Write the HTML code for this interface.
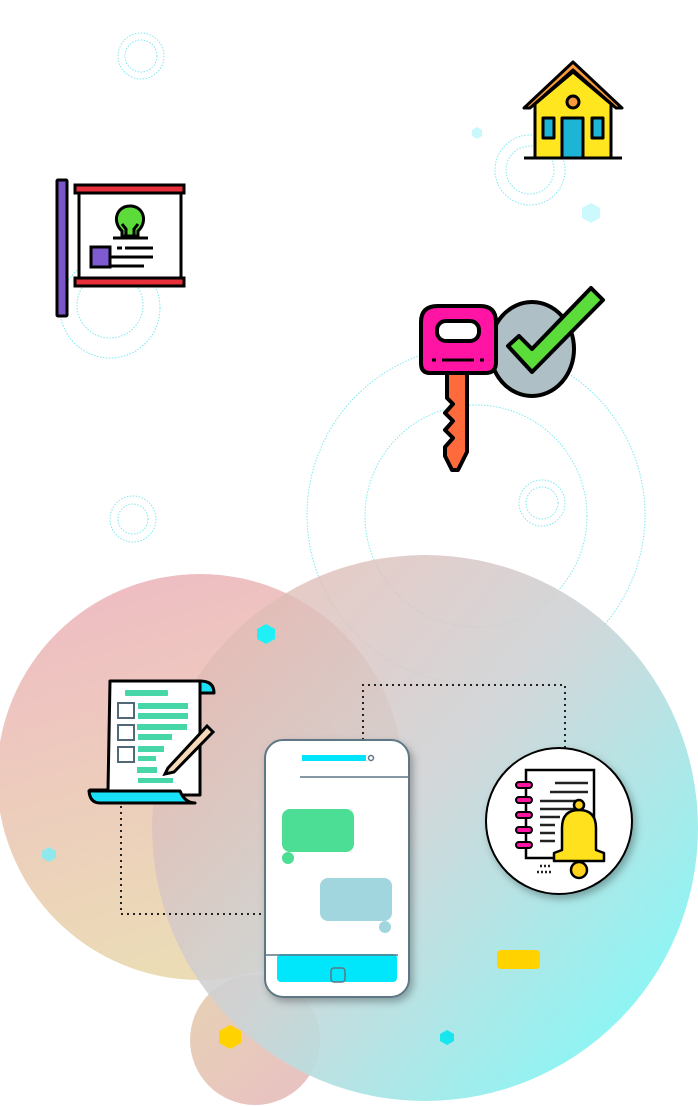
<!DOCTYPE html>
<html><head><meta charset="utf-8"><style>
html,body{margin:0;padding:0;background:#fff;}
svg{display:block}
</style></head><body>
<svg width="698" height="1106" viewBox="0 0 698 1106" xmlns="http://www.w3.org/2000/svg">
<defs>
<linearGradient id="gl" x1="0" y1="0" x2="0.3" y2="1">
<stop offset="0" stop-color="#efbac4"/><stop offset="1" stop-color="#ebdcb6"/></linearGradient>
<linearGradient id="gr" x1="0.1" y1="0.1" x2="0.9" y2="0.8">
<stop offset="0" stop-color="#e3b8b0" stop-opacity="0.75"/><stop offset="0.5" stop-color="#cdd3d6" stop-opacity="0.9"/><stop offset="1" stop-color="#8ff4f3"/></linearGradient>
<linearGradient id="gs" x1="0" y1="0" x2="1" y2="1">
<stop offset="0" stop-color="#e7d2b4"/><stop offset="1" stop-color="#e8c0c4"/></linearGradient>
<filter id="sh" x="-20%" y="-20%" width="150%" height="150%"><feDropShadow dx="3" dy="4" stdDeviation="4" flood-color="#000" flood-opacity="0.3"/></filter>
</defs>

<g fill="none" stroke="#7fe8f0" stroke-width="1" stroke-dasharray="1.5 1.5">
<circle cx="141" cy="56" r="23"/><circle cx="141" cy="56" r="16"/>
<circle cx="530" cy="170" r="35"/><circle cx="530" cy="170" r="24"/>
<circle cx="110" cy="308" r="50"/><circle cx="110" cy="305" r="33"/>
<circle cx="133" cy="519" r="23"/><circle cx="133" cy="519" r="15"/>
<circle cx="476" cy="515" r="169"/><circle cx="476" cy="516" r="111"/>
<circle cx="542" cy="503" r="23"/><circle cx="542" cy="503" r="16"/>
</g>

<circle cx="200" cy="777" r="203" fill="url(#gl)"/>
<circle cx="255" cy="1040" r="65" fill="url(#gs)"/>
<circle cx="425" cy="828" r="273" fill="url(#gr)"/>

<g>
<polygon points="477,127 482,130 482,136 477,139 472,136 472,130" fill="#c8f8fb"/>
<polygon points="591,203 600,208 600,218 591,223 582,218 582,208" fill="#ccfafc"/>
<polygon points="266,624 275,629 275,639 266,644 257,639 257,629" fill="#1ff0f6"/>
<polygon points="49,847 56,851 56,858 49,862 42,858 42,851" fill="#8ee8ec"/>
<polygon points="447,1030 454,1034 454,1041 447,1045 440,1041 440,1034" fill="#18e6ef"/>
<polygon points="230,1025 241,1031 241,1043 230,1049 219,1043 219,1031" fill="#ffd200"/>
</g>
<rect x="497" y="950" width="43" height="19" rx="4" fill="#ffd200"/>

<g stroke="#000" stroke-width="3" stroke-linejoin="round">
<polygon points="573,62 622,108 616,108 573,70 530,108 524,108" fill="#f99a3a"/>
<polygon points="535,104 573,72 611,104 611,158 535,158" fill="#ffe61e"/>
<rect x="543" y="118" width="11" height="20" fill="#1eb4d6"/>
<rect x="592" y="118" width="11" height="20" fill="#1eb4d6"/>
<rect x="562" y="118" width="21" height="40" fill="#1eb4d6"/>
<circle cx="573" cy="102" r="6" fill="#f99a3a"/>
<line x1="524" y1="158" x2="622" y2="158"/>
</g>

<g stroke="#000" stroke-width="3">
<rect x="57" y="180" width="10" height="136" fill="#7a56c8" rx="1"/>
<rect x="75" y="185" width="109" height="8" fill="#e8303a"/>
<rect x="79" y="193" width="102" height="85" fill="#fff"/>
<rect x="75" y="278" width="109" height="8" fill="#e8303a"/>
<rect x="91" y="247" width="19" height="20" fill="#7f5bd1"/>
</g>
<g stroke="#000" stroke-width="3" fill="#5bdc3b">
<path d="M122,231 C112,222 116,206 130,206 C144,206 148,222 138,231 L138,236 L122,236 Z"/>
</g>
<g stroke="#000" stroke-width="3">
<line x1="113" y1="238" x2="148" y2="238"/>
<path d="M126,236 V229 L122,224 M134,236 V229 L138,224" fill="none"/>
<line x1="117" y1="248" x2="122" y2="248"/><line x1="125" y1="248" x2="153" y2="248"/>
<line x1="110" y1="257" x2="153" y2="257"/><line x1="110" y1="266" x2="144" y2="266"/>
</g>

<g stroke="#000" stroke-width="4" stroke-linejoin="round">
<ellipse cx="532" cy="349" rx="42" ry="47" fill="#aebfc5"/>
<polygon points="508,346 519,336 532,349 591,288 603,300 532,372" fill="#5bdc3b"/>
<path d="M447,372 L467,372 L467,452 L458,470 L452,470 L445,456 L445,447 L453,438 L445,430 L453,421 L445,413 L453,404 L447,398 Z" fill="#ff6a3d"/>
<path d="M438,306 L480,306 Q496,306 496,322 L496,362 Q496,373 486,373 L430,373 Q421,373 421,363 L421,322 Q421,306 438,306 Z" fill="#ff14a4"/>
<rect x="437" y="321" width="42" height="20" rx="9" fill="#fff"/>
</g>
<g stroke="#000" stroke-width="3"><line x1="432" y1="360" x2="436" y2="360"/><line x1="442" y1="360" x2="474" y2="360"/><line x1="480" y1="360" x2="484" y2="360"/></g>

<g fill="none" stroke="#222" stroke-width="2" stroke-dasharray="2 4">
<path d="M121,806 V914 H263"/>
<path d="M363,740 V685 H565 V748"/>
</g>

<g stroke="#000" stroke-width="3" stroke-linejoin="round">
<path d="M110,681 L200,681 L200,795 L90,795 L90,790 L108,790 Z" fill="#fff"/>
<path d="M200,681 Q214,681 214,693 L200,693 Z" fill="#18e0f6"/>
<path d="M89,791 L180,791 Q185,803 195,803 L100,803 Q90,803 89,791 Z" fill="#18e0f6"/>
</g>
<g fill="#47d6a8">
<rect x="125" y="690" width="43" height="6" rx="1"/>
<rect x="138" y="703" width="50" height="6"/><rect x="138" y="713" width="50" height="6"/>
<rect x="137" y="724" width="50" height="6"/><rect x="138" y="734" width="34" height="6"/>
<rect x="138" y="746" width="26" height="6"/><rect x="138" y="756" width="18" height="5"/>
<rect x="137" y="767" width="20" height="6"/><rect x="138" y="778" width="35" height="5"/>
</g>
<g fill="none" stroke="#506878" stroke-width="2">
<rect x="118" y="703" width="16" height="15"/><rect x="118" y="725" width="16" height="15"/><rect x="118" y="747" width="16" height="15"/>
</g>
<path d="M168,768 L207,726 L213,732 L174,772 L165,774 Z" fill="#f5d9b8" stroke="#000" stroke-width="3"/>

<g filter="url(#sh)">
<rect x="265" y="740" width="144" height="257" rx="18" fill="#fff" stroke="#5f7785" stroke-width="2"/>
</g>
<rect x="302" y="755" width="64" height="6" fill="#00e4fb"/>
<circle cx="371" cy="758" r="2.5" fill="none" stroke="#5f7785" stroke-width="1.5"/>
<line x1="300" y1="777" x2="408" y2="777" stroke="#5f7785" stroke-width="1.5"/>
<rect x="282" y="809" width="72" height="43" rx="8" fill="#4bde94"/>
<circle cx="288" cy="858" r="6" fill="#4bde94"/>
<rect x="320" y="878" width="72" height="43" rx="8" fill="#a1d6df"/>
<circle cx="385" cy="927" r="6" fill="#a1d6df"/>
<rect x="277" y="954" width="120" height="28" rx="4" fill="#00e6fb"/>
<line x1="266" y1="955" x2="398" y2="955" stroke="#5f7785" stroke-width="1.5"/>
<rect x="331" y="968" width="14" height="14" rx="3" fill="none" stroke="#5f7785" stroke-width="1.5"/>

<g filter="url(#sh)"><circle cx="559" cy="821" r="73" fill="#fff" stroke="#000" stroke-width="2"/></g>
<rect x="526" y="770" width="68" height="88" fill="#fff" stroke="#000" stroke-width="2.5"/>
<g stroke="#222" stroke-width="2.5">
<line x1="555" y1="783" x2="588" y2="783"/><line x1="550" y1="792" x2="588" y2="792"/>
<line x1="540" y1="801" x2="580" y2="801"/><line x1="540" y1="809" x2="575" y2="809"/>
<line x1="540" y1="817" x2="560" y2="817"/><line x1="540" y1="825" x2="555" y2="825"/>
<line x1="540" y1="833" x2="555" y2="833"/><line x1="540" y1="841" x2="555" y2="841"/>
<line x1="540" y1="866" x2="552" y2="866" stroke-dasharray="2 2"/><line x1="537" y1="872" x2="552" y2="872" stroke-dasharray="2 2"/>
</g>
<g fill="#ff14a4" stroke="#000" stroke-width="2">
<rect x="516" y="782" width="16" height="6" rx="3"/><rect x="516" y="797" width="16" height="6" rx="3"/>
<rect x="516" y="812" width="16" height="6" rx="3"/><rect x="516" y="827" width="16" height="6" rx="3"/>
<rect x="516" y="842" width="16" height="6" rx="3"/>
</g>
<g stroke="#000" stroke-width="2.5" stroke-linejoin="round">
<circle cx="579" cy="870" r="8" fill="#ffd21e"/>
<path d="M562,850 L562,828 Q562,810 579,810 Q596,810 596,828 L596,850 L604,853 L604,861 L554,861 L554,853 Z" fill="#ffe11e"/>
<circle cx="579" cy="805" r="5" fill="#ffd21e"/>
</g>
</svg>
</body></html>
